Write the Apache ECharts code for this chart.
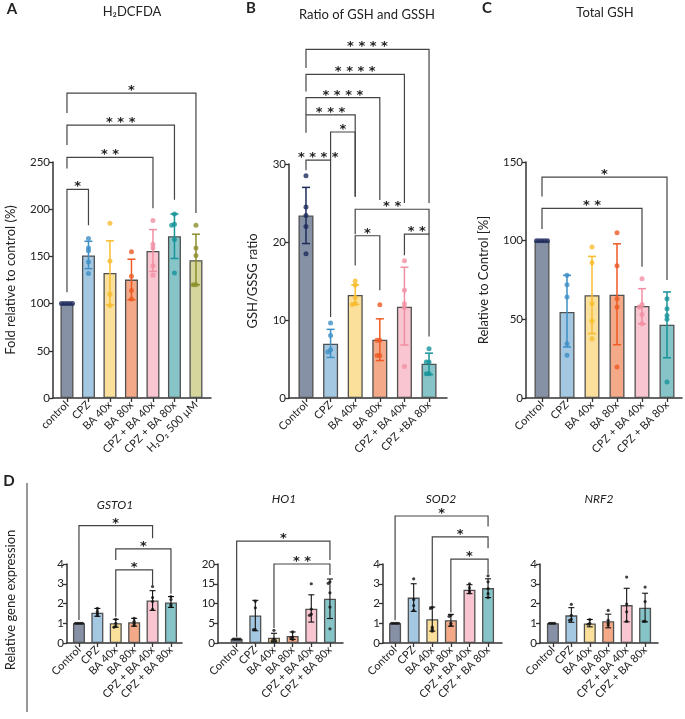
<!DOCTYPE html>
<html><head><meta charset="utf-8">
<script src="https://cdn.jsdelivr.net/npm/echarts@6/dist/echarts.min.js"></script>
<style>html,body{margin:0;padding:0;background:#fff}#c{width:685px;height:719px}</style>
</head><body><div id="c"></div>
<script>
// ---------- DATA ----------
const catsA = ['control','CPZ','BA 40x','BA 80x','CPZ + BA 40x','CPZ + BA 80x','H₂O₂ 500 µM'];
const meanA = [100,151,132.5,125.4,155.8,171.4,146];
const loA   = [100,137,98.5,104,134,147.8,120];
const hiA   = [100,166,166.5,147,178.4,195,173.5];
const dotsA = [[100,100,100,100,100],[169,159,156,144,132],[185,145,110,98],[155,129,114,105],[188,163,159,140,130],[195,184,183,168,132.5],[183,159,151,120,120]];
const brkA  = [[0,1,221,112,183,'*'],[0,4,255,243,201,'* *'],[0,5,289,268,210,'* * *'],[0,6,323,302,196,'*']];

const catsB = ['Control','CPZ','BA 40x','BA 80x','CPZ + BA 40x','CPZ +BA 80x'];
const meanB = [23.4,6.95,13.2,7.46,11.7,4.39];
const loB   = [19.8,5.2,12.0,4.8,6.8,3.0];
const hiB   = [27.0,8.8,14.5,10.15,16.76,5.75];
const dotsB = [[28.5,24.5,23.4,22.0,18.5],[9.6,8.0,6.2,5.9],[15.0,14.5,12.9,12.1,12.0],[11.95,7.4,7.4,5.45,5.45],[17.6,13.8,12.07,11.6,4.05],[6.3,4.6,4.6,3.1,3.1]];
const brkB  = [[0,5,44.7,42.3,25,'* * * *'],[0,4,41.5,39.3,25,'* * * *'],[0,3,38.5,36.3,25.4,'* * * *'],[0,2,36.3,34,25.8,'* * *'],[1,2,34.1,30.5,25.8,'*'],[0,1,30.5,29.2,10.4,'* * * *'],[2,5,24.2,21,21,'* *'],[2,3,20.8,17,13.8,'*'],[4,5,21.0,18.3,7.9,'* *']];

const catsC = ['Control','CPZ','BA 40x','BA 80x','CPZ + BA 40x','CPZ + BA 80x'];
const meanC = [100,54.7,65.3,65.7,58.5,46.6];
const loC   = [100,32.4,40.9,33.9,47.2,25.6];
const hiC   = [100,78,90,98,69.5,67.4];
const dotsC = [[100,100,100,100,100],[78,72,64.2,34.5,27.1],[96,86,60,49,37.7],[105,84,63.1,57.8,19.7],[75.8,59.5,57.8,53,47.2],[63.1,56.8,52.5,50,10.2]];
const brkC  = [[0,5,140.4,128,75,'*'],[0,4,120.5,107.4,83.4,'* *']];

const catsD = ['Control','CPZ','BA 40x','BA 80x','CPZ + BA 40x','CPZ + BA 80x'];
const meanG = [1.0,1.53,1.0,1.05,2.15,2.05];
const loG   = [1,1.35,0.8,0.85,1.65,1.8];
const hiG   = [1,1.75,1.2,1.25,2.65,2.35];
const dotsG = [[1,1,1,1,1],[1.75,1.6,1.5,1.4],[1.2,1.0,0.85,0.8],[1.25,1.1,1.0,0.9],[2.86,2.3,2.1,1.7],[2.35,2.2,1.95,1.85]];
const brkG  = [[0,4,5.94,1.17,5.3,'*'],[2,5,4.77,4.2,2.5,'*'],[2,4,3.7,1.33,2.85,'*']];

const meanH = [1.0,6.95,1.36,1.78,8.7,11.2];
const loH   = [1,3.1,0.25,0.9,5.3,6.2];
const hiH   = [1,10.8,2.46,2.8,12.2,16.2];
const dotsH = [[1,1,1,1,1],[10.6,8.9,3.4,3.4],[3.2,1.0,0.6,0.6],[2.8,1.5,1.3,0.9],[15,8.6,7.3,7.0],[15.5,15.1,12.7,9.1,3.6]];
const brkH  = [[0,5,25.8,1.5,21,'*'],[2,5,20,3.8,17.2,'* *']];

const meanS = [1.0,2.3,1.2,1.15,2.7,2.78];
const loS   = [1,1.6,0.6,0.85,2.5,2.3];
const hiS   = [1,3.0,1.82,1.45,2.95,3.25];
const dotsS = [[1,1,1,1,1],[3.25,2.2,1.9,1.65],[1.8,1.75,0.8,0.7,0.6],[1.4,1.35,1.0,0.9],[3.0,2.8,2.65,2.55],[3.4,3.1,2.75,2.5,2.3]];
const brkS  = [[0,5,6.43,1.15,5.9,'*'],[2,5,5.37,1.85,4.8,'*'],[3,5,4.25,1.55,3.5,'*']];

const meanN = [1.0,1.4,0.99,1.1,1.92,1.79];
const loN   = [1,1.05,0.82,0.77,1.07,1.07];
const hiN   = [1,1.79,1.19,1.46,2.77,2.52];
const dotsN = [[1,1,1,1],[1.96,1.4,1.2,1.15],[1.19,1.0,0.95],[1.65,1.15,1.0,0.9],[3.34,1.97,1.58,1.1],[2.83,2.1,1.1,1.1]];
const brkN  = [];

// ---------- STYLE ----------
const FILL = ['#8791a6','#a4c8e2','#fbe09b','#f4aa88','#f8c5d0','#86c4c8','#d5d69c'];
const DARK = ['#1d2b5c','#3d8fc6','#f7bd2e','#ee5a24','#f28ea3','#16939a','#8c8f2c'];
const FONT = 'Lato, "Open Sans", sans-serif';
const STAR = 'bold 13px "DejaVu Sans", sans-serif';
const AX = '#333';

const panels = [
  {cats:catsA, mean:meanA, lo:loA, hi:hiA, dots:dotsA, brk:brkA, left:53, top:162, width:158, height:236, xmin:-0.65, xmax:6.7, ymax:250, yint:50, bw:13, dot:5, colored:true, name:'Fold relative to control (%)', gap:36, lf:11, cap:4},
  {cats:catsB, mean:meanB, lo:loB, hi:hiB, dots:dotsB, brk:brkB, left:289, top:164, width:158, height:234, xmin:-0.69, xmax:5.73, ymax:30, yint:10, bw:15, dot:5, colored:true, name:'GSH/GSSG ratio', gap:30, lf:11, cap:4},
  {cats:catsC, mean:meanC, lo:loC, hi:hiC, dots:dotsC, brk:brkC, left:526, top:162, width:156, height:236, xmin:-0.64, xmax:5.6, ymax:150, yint:50, bw:15, dot:5, colored:true, name:'Relative to Control [%]', gap:36, lf:11, cap:4},
  {cats:catsD, mean:meanG, lo:loG, hi:hiG, dots:dotsG, brk:brkG, left:67, top:564, width:115, height:79, xmin:-0.65, xmax:5.6, ymax:4, yint:1, bw:12, dot:3.2, colored:false, lf:11, cap:3},
  {cats:catsD, mean:meanH, lo:loH, hi:hiH, dots:dotsH, brk:brkH, left:218, top:564, width:125, height:79, xmin:-1.0, xmax:5.7, ymax:20, yint:5, bw:12, dot:3.2, colored:false, lf:11, cap:3},
  {cats:catsD, mean:meanS, lo:loS, hi:hiS, dots:dotsS, brk:brkS, left:383, top:564, width:119, height:79, xmin:-0.65, xmax:5.75, ymax:4, yint:1, bw:12, dot:3.2, colored:false, lf:11, cap:3},
  {cats:catsD, mean:meanN, lo:loN, hi:hiN, dots:dotsN, brk:brkN, left:540, top:564, width:118, height:79, xmin:-0.7, xmax:5.7, ymax:4, yint:1, bw:12, dot:3.2, colored:false, lf:11, cap:3}
];

// beeswarm-style horizontal spread (layout only)
function swarm(values, pyU, pxU, d) {
  const placed = [], s = d * 0.55;
  return values.map(v => {
    const y = v * pyU;
    const ks = [0,-1,1,-2,2,-3,3,-4,4];
    for (const k of ks) {
      const x = k * s;
      if (placed.every(p => Math.hypot(p.x - x, p.y - y) >= s)) { placed.push({x, y}); return x / pxU; }
    }
    return 0;
  });
}

const grid = [], xAxis = [], yAxis = [], series = [];
panels.forEach((p, k) => {
  const idx = p.cats.map((_, i) => i);
  grid.push({left:p.left, top:p.top, width:p.width, height:p.height});
  xAxis.push({type:'value', gridIndex:k, min:p.xmin, max:p.xmax,
    axisLine:{show:true, onZero:false, lineStyle:{color:AX, width:1.5}},
    axisTick:{show:true, customValues:idx, length:4, lineStyle:{color:AX, width:1.3}},
    axisLabel:{customValues:idx, rotate:45, fontSize:p.lf, color:'#222', fontFamily:FONT, margin:5,
      formatter: v => p.cats[Math.round(v)]},
    splitLine:{show:false}});
  yAxis.push({type:'value', gridIndex:k, min:0, max:p.ymax, interval:p.yint,
    axisLine:{show:true, onZero:false, lineStyle:{color:AX, width:1.5}},
    axisTick:{show:true, length:4, lineStyle:{color:AX, width:1.3}},
    axisLabel:{fontSize:11.5, color:'#222', fontFamily:FONT, margin:3},
    splitLine:{show:false},
    name:p.name || '', nameLocation:'middle', nameGap:p.gap || 20,
    nameTextStyle:{fontSize:13, color:'#222', fontFamily:FONT}});
  series.push({type:'bar', xAxisIndex:k, yAxisIndex:k, barWidth:p.bw, z:1, silent:true,
    data:p.mean.map((m, i) => ({value:[i, m], itemStyle:{color:FILL[i], borderColor:'#505050', borderWidth:1.3}}))});
  const ecol = idx.map(i => p.colored ? DARK[i] : '#111');
  series.push({type:'custom', xAxisIndex:k, yAxisIndex:k, z:3, silent:true, clip:false,
    data:p.lo.map((l, i) => [i, l, p.hi[i]]),
    renderItem:(params, api) => {
      const x = api.value(0), lo = api.value(1), hi = api.value(2);
      if (hi - lo <= 0) return {type:'group', children:[]};
      const a = api.coord([x, lo]), b = api.coord([x, hi]);
      const c = ecol[params.dataIndex], w = p.cap, lw = p.colored ? 1.5 : 1.1;
      return {type:'group', children:[
        {type:'line', shape:{x1:a[0], y1:a[1], x2:b[0], y2:b[1]}, style:{stroke:c, lineWidth:lw}},
        {type:'line', shape:{x1:b[0]-w, y1:b[1], x2:b[0]+w, y2:b[1]}, style:{stroke:c, lineWidth:lw}},
        {type:'line', shape:{x1:a[0]-w, y1:a[1], x2:a[0]+w, y2:a[1]}, style:{stroke:c, lineWidth:lw}}
      ]};
    }});
  const pyU = p.height / p.ymax, pxU = p.width / (p.xmax - p.xmin);
  const sd = [];
  p.dots.forEach((vals, i) => {
    const off = swarm(vals, pyU, pxU, p.dot);
    vals.forEach((v, j) => sd.push({value:[i + off[j], v], itemStyle:{color:ecol[i]}}));
  });
  series.push({type:'scatter', xAxisIndex:k, yAxisIndex:k, z:4, silent:true, symbolSize:p.dot, data:sd});
  if (p.brk.length) {
    series.push({type:'custom', xAxisIndex:k, yAxisIndex:k, z:5, silent:true, clip:false,
      data:p.brk.map(b => [b[0], b[2]]),
      renderItem:(params, api) => {
        const b = p.brk[params.dataIndex];
        const pL = api.coord([b[0], b[3]]), tL = api.coord([b[0], b[2]]), tR = api.coord([b[1], b[2]]), pR = api.coord([b[1], b[4]]);
        return {type:'group', children:[
          {type:'polyline', shape:{points:[pL, tL, tR, pR]}, style:{stroke:'#444', lineWidth:1.2, fill:null}},
          {type:'text', style:{text:b[5], x:(tL[0] + tR[0]) / 2, y:tL[1] + 4, textAlign:'center', textVerticalAlign:'bottom',
            font:STAR, fill:'#222'}}
        ]};
      }});
  }
});

const T = (text, x, y, size, extra) => ({type:'text', x, y, style:{text, textAlign:'center', textVerticalAlign:'middle', font:(extra || '') + ' ' + size + 'px ' + FONT, fill:'#222'}});
const graphic = [
  T('A', 12, 9, 15, 'bold'), T('B', 251, 8, 15, 'bold'), T('C', 487, 8, 15, 'bold'), T('D', 9, 481, 15, 'bold'),
  T('H₂DCFDA', 132, 12, 13), T('Ratio of GSH and GSSH', 367, 15, 13), T('Total GSH', 605, 13, 13),
  T('GSTO1', 115, 505, 12, 'italic'), T('HO1', 284, 499, 12, 'italic'), T('SOD2', 441, 499, 12, 'italic'), T('NRF2', 599, 499, 12, 'italic'),
  {type:'text', x:11, y:600, rotation:Math.PI / 2, style:{text:'Relative gene expression', textAlign:'center', textVerticalAlign:'middle', font:'13px ' + FONT, fill:'#222'}},
  {type:'line', shape:{x1:27, y1:483, x2:27, y2:712}, style:{stroke:'#333', lineWidth:1}}
];

const chart = echarts.init(document.getElementById('c'), null, {renderer:'canvas'});
chart.setOption({animation:false, backgroundColor:'#fff', grid, xAxis, yAxis, series, graphic});
</script></body></html>
